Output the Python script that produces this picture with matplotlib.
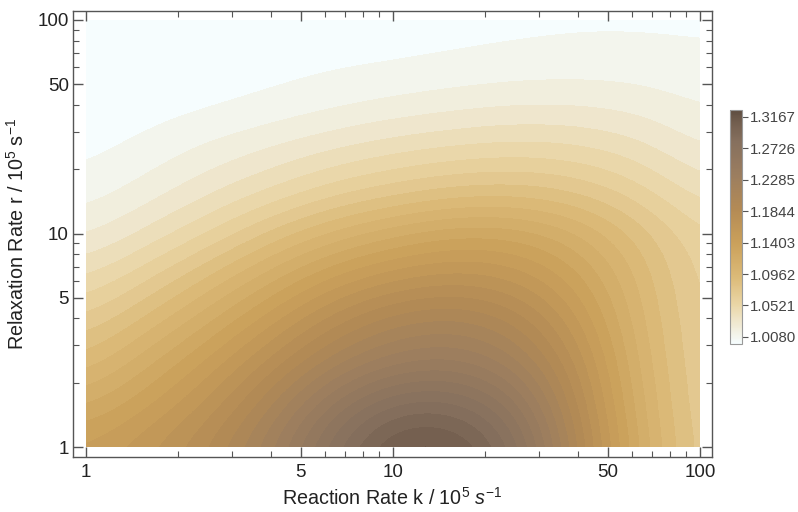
import numpy as np
import matplotlib
matplotlib.use('Agg')
import matplotlib.pyplot as plt
from matplotlib.colors import LinearSegmentedColormap, ListedColormap, Normalize, BoundaryNorm
from matplotlib.cm import ScalarMappable
from matplotlib.patches import Rectangle
from matplotlib.ticker import FixedLocator, NullFormatter, FixedFormatter

plt.rcParams['font.family'] = ['Liberation Sans', 'DejaVu Sans']
plt.rcParams['mathtext.fontset'] = 'custom'
plt.rcParams['mathtext.rm'] = 'Liberation Sans'
plt.rcParams['mathtext.it'] = 'Liberation Sans:italic'

############################### Datos ###############################
# grilla en log10 (k y r en unidades de 1e5 s^-1)
log_k = [0.0, 0.2, 0.4, 0.6, 0.8, 1.0, 1.2, 1.4, 1.6, 1.8, 2.0]
log_r = [0.0, 0.2, 0.4, 0.6, 0.8, 1.0, 1.2, 1.4, 1.6, 1.8, 2.0]

# valores, filas = r, columnas = k
Z = [
    [1.150, 1.166, 1.188, 1.225, 1.275, 1.313, 1.314, 1.280, 1.198, 1.125, 1.078],
    [1.125, 1.146, 1.170, 1.205, 1.250, 1.282, 1.284, 1.255, 1.188, 1.120, 1.076],
    [1.100, 1.125, 1.150, 1.180, 1.212, 1.234, 1.240, 1.222, 1.177, 1.115, 1.075],
    [1.078, 1.100, 1.125, 1.153, 1.182, 1.203, 1.210, 1.196, 1.160, 1.110, 1.074],
    [1.056, 1.075, 1.098, 1.123, 1.148, 1.164, 1.172, 1.165, 1.142, 1.105, 1.072],
    [1.035, 1.050, 1.068, 1.090, 1.110, 1.125, 1.136, 1.135, 1.120, 1.094, 1.068],
    [1.022, 1.032, 1.045, 1.058, 1.072, 1.082, 1.090, 1.092, 1.086, 1.072, 1.052],
    [1.0145, 1.021, 1.030, 1.038, 1.047, 1.054, 1.059, 1.062, 1.060, 1.052, 1.037],
    [1.011, 1.013, 1.016, 1.020, 1.025, 1.030, 1.034, 1.037, 1.037, 1.034, 1.027],
    [1.009, 1.011, 1.012, 1.014, 1.016, 1.017, 1.019, 1.021, 1.022, 1.022, 1.020],
    [1.008, 1.009, 1.010, 1.011, 1.012, 1.013, 1.014, 1.015, 1.016, 1.016, 1.016],
]

z_min = 1.0080
z_max = 1.3167
n_contours = 30

cb_ticks = [1.0080, 1.0521, 1.0962, 1.1403, 1.1844, 1.2285, 1.2726, 1.3167]

# colores de la escala (valor -> color)
cmap_vals = [1.008, 1.030, 1.060, 1.095, 1.140, 1.185, 1.230, 1.275, 1.300, 1.3167]
cmap_cols = ['#f6fdfe', '#f1ecd9', '#ead6a6', '#dcbb79', '#cba15b',
             '#b48b55', '#9c7e5f', '#86705e', '#735f4f', '#5e4d41']

############################### Escala de color ###############################
pos = [(v - cmap_vals[0]) / (cmap_vals[-1] - cmap_vals[0]) for v in cmap_vals]
cmap = LinearSegmentedColormap.from_list('sandy', list(zip(pos, cmap_cols)))
norm = Normalize(z_min, z_max)

levels = list(np.linspace(z_min, z_max, n_contours + 2))
levels[0] = 0.99
levels[-1] = 1.35
band_cols = [cmap(norm(max(l, z_min))) for l in levels[:-1]]

############################### Figura ###############################
fig = plt.figure(figsize=(7.98, 5.12), dpi=100)
rect = [73/798, 1 - 457/512, (712 - 73)/798, (457 - 11)/512]
u_lim = (-13/307, 2 + 12/307)
v_lim = (-10/213.5, 2 + 9/213.5)

### Contornos (en log10) con interpolacion bicubica del propio matplotlib
ax_img = fig.add_axes(rect)
ax_img.set_xlim(u_lim)
ax_img.set_ylim(v_lim)
ax_img.axis('off')
du = log_k[1] - log_k[0]
dv = log_r[1] - log_r[0]
im = ax_img.imshow(np.array(Z), origin='lower', aspect='auto',
                   extent=[log_k[0] - du/2, log_k[-1] + du/2, log_r[0] - dv/2, log_r[-1] + dv/2],
                   cmap=ListedColormap(band_cols), norm=BoundaryNorm(levels, len(band_cols)),
                   interpolation='bicubic', interpolation_stage='data')
im.set_clip_path(Rectangle((log_k[0], log_r[0]), log_k[-1] - log_k[0], log_r[-1] - log_r[0],
                           transform=ax_img.transData))

### Ejes logaritmicos encima
ax = fig.add_axes(rect)
ax.set_facecolor('none')
ax.set_xscale('log')
ax.set_yscale('log')
ax.set_xlim(10**u_lim[0], 10**u_lim[1])
ax.set_ylim(10**v_lim[0], 10**v_lim[1])

major = [1, 5, 10, 50, 100]
minor = [2, 3, 4, 6, 7, 8, 9, 20, 30, 40, 60, 70, 80, 90]
for axis in (ax.xaxis, ax.yaxis):
    axis.set_major_locator(FixedLocator(major))
    axis.set_major_formatter(FixedFormatter([str(m) for m in major]))
    axis.set_minor_locator(FixedLocator(minor))
    axis.set_minor_formatter(NullFormatter())

ax.tick_params(which='both', direction='in', top=True, right=True,
               color='#555555', labelsize=13.5, labelcolor='#222222')
ax.tick_params(axis='x', which='major', pad=5)
ax.tick_params(axis='y', which='major', pad=3)
ax.tick_params(which='major', length=7, width=1.0)
ax.tick_params(which='minor', length=4, width=0.8)
for s in ax.spines.values():
    s.set_color('#555555')
    s.set_linewidth(1.0)

ax.set_xlabel('Reaction Rate k / 10$^5$ $s^{-1}$', fontsize=14.2, color='#222222', labelpad=4)
ax.set_ylabel('Relaxation Rate r / 10$^5$ s$^{-1}$', fontsize=14.2, color='#222222', labelpad=7)

############################### Barra de color ###############################
cax = fig.add_axes([730/798, 1 - 344/512, 12/798, (344 - 110)/512])
sm = ScalarMappable(norm=Normalize(0.998, 1.3265), cmap=cmap)
cb = fig.colorbar(sm, cax=cax, ticks=cb_ticks)
cb.ax.set_yticklabels(['%.4f' % t for t in cb_ticks])
cb.ax.tick_params(length=4, width=0.8, color='#555555', labelsize=10.8, labelcolor='#444444', pad=1.5)
cb.outline.set_edgecolor('#999999')
cb.outline.set_linewidth(0.8)

fig.savefig('out.png', dpi=100)
